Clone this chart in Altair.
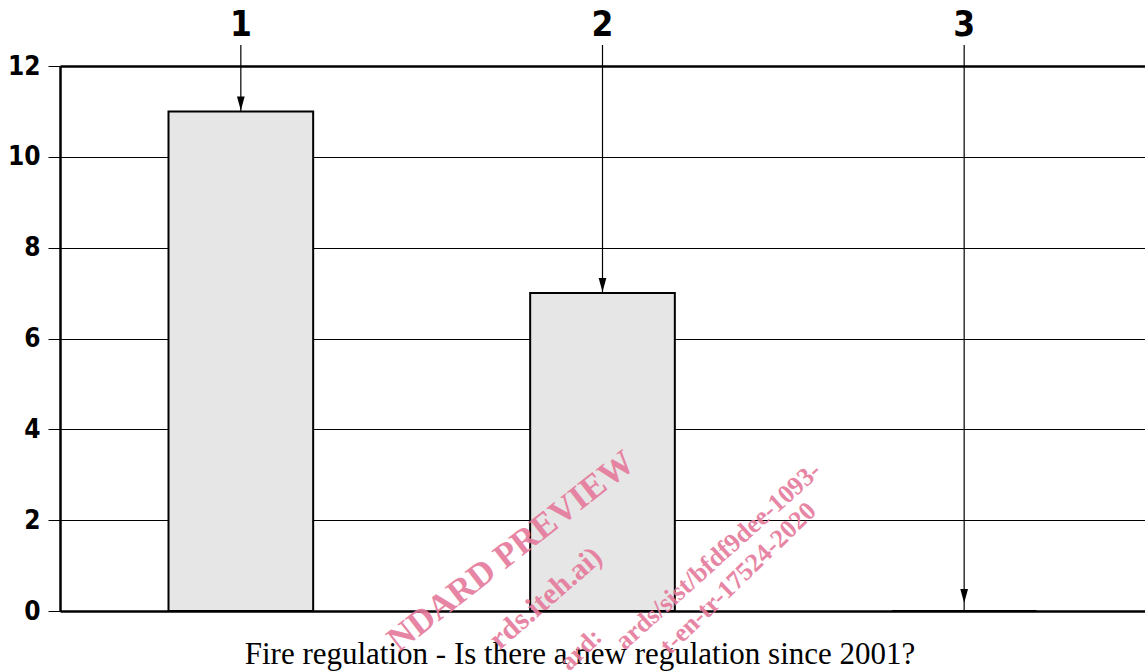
import altair as alt
import pandas as pd

categories = ["1", "2", "3"]
values = [11, 7, 0]
y_ticks = [0, 2, 4, 6, 8, 10, 12]
title_text = "Fire regulation - Is there a new regulation since 2001?"
# visible parts of the pink watermark
watermark_lines = [
    "NDARD PREVIEW",
    "rds.iteh.ai)",
    "ard:",
    "ards/sist/bfdf9dee-1093-",
    "t-en-tr-17524-2020",
]

df = pd.DataFrame({"cat": categories, "value": values})

W, H = 1085, 545

x_enc = alt.X(
    "cat:N",
    sort=categories,
    scale=alt.Scale(domain=categories, paddingInner=0.6, paddingOuter=0.3),
    axis=alt.Axis(
        orient="top", title=None, ticks=False, tickSize=0, domain=False,
        labelAngle=0, labelFont="DejaVu Sans Condensed", labelFontSize=35,
        labelFontWeight="bold", labelColor="black", labelPadding=24,
    ),
)
y_scale = alt.Scale(domain=[0, 12], nice=False, zero=True)
y_enc = alt.Y(
    "value:Q",
    scale=y_scale,
    axis=alt.Axis(
        title=None, values=y_ticks, grid=True, gridColor="black",
        gridWidth={"condition": {"test": "datum.value === 12 || datum.value === 0", "value": 2.5}, "value": 1},
        gridOpacity=1, domainColor="black", domainWidth=2.5,
        tickColor="black", tickSize=12, tickWidth=1,
        labelFont="Liberation Sans Narrow, DejaVu Sans Condensed", labelFontSize=26,
        labelFontWeight="bold", labelColor="black", labelPadding=8,
    ),
)

base = alt.Chart(df)

bars = base.mark_bar(fill="#e6e6e6", stroke="black", strokeWidth=2).encode(x=x_enc, y=y_enc)

shafts = base.mark_rule(color="black", strokeWidth=1.2, clip=False).encode(
    x=alt.X("cat:N", sort=categories),
    y=alt.Y("value:Q"),
    y2=alt.value(-21),
)

head_shape = "M-0.55,-2L0.55,-2L0,0Z"
heads_bar = base.transform_filter("datum.value > 0").mark_point(
    shape=head_shape, filled=True, color="black", opacity=1, size=196, clip=False,
    yOffset=-1,
).encode(x=alt.X("cat:N", sort=categories), y=alt.Y("value:Q"))
heads_zero = base.transform_filter("datum.value == 0").mark_point(
    shape=head_shape, filled=True, color="black", opacity=1, size=196, clip=False,
    yOffset=-8,
).encode(x=alt.X("cat:N", sort=categories), y=alt.Y("value:Q"))

title = alt.Chart(pd.DataFrame({"t": [title_text]})).mark_text(
    font="Liberation Serif", fontSize=31, color="black", align="center",
    baseline="middle", clip=False,
).encode(text="t:N", x=alt.value(520), y=alt.value(589))

wm_color = "#e57a9b"
wm_specs = [
    (0, 570, 392, 35, 322),
    (1, 538, 487, 30, 319),
    (2, 538, 567, 26, 316),
    (3, 757, 401, 26, 318),
    (4, 752, 441, 26, 316),
]
wm_layers = []
for idx, px, py, fs, ang in wm_specs:
    wm_layers.append(
        alt.Chart(pd.DataFrame({"t": [watermark_lines[idx]]})).mark_text(
            font="Liberation Serif", fontSize=fs, fontWeight="bold", color=wm_color,
            opacity=0.9, align="right", baseline="middle", angle=ang, clip=False,
        ).encode(text="t:N", x=alt.value(px), y=alt.value(py))
    )

chart = alt.layer(bars, shafts, heads_bar, heads_zero, title, *wm_layers).properties(
    width=W, height=H,
    padding={"left": 60, "top": 66, "right": 0, "bottom": 60},
    autosize=alt.AutoSizeParams(type="none"),
    background="white",
).configure_view(stroke=None)

chart.save("out.html", embed_options={"renderer": "svg", "actions": False})
